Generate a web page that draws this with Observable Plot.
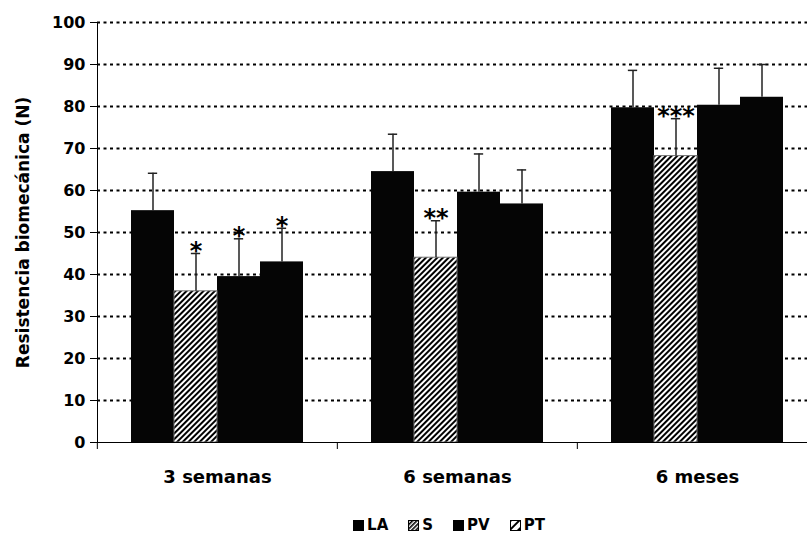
<!DOCTYPE html>
<html>
<head>
<meta charset="utf-8">
<script src="https://cdn.jsdelivr.net/npm/d3@7"></script>
<script src="https://cdn.jsdelivr.net/npm/@observablehq/plot@0.6"></script>
<style>
  html, body { margin: 0; padding: 0; background: #fff; overflow: hidden; }
  #legend {
    width: 807px; height: 35px; box-sizing: border-box;
    padding-left: 91px; padding-top: 19px;
    display: flex; justify-content: center; align-items: center;
    font-family: 'DejaVu Sans', sans-serif; font-weight: bold; font-size: 15px; color: #000;
  }
  .item { display: flex; align-items: center; margin: 0 10px; }
  .item svg { margin-right: 3px; display: block; }
</style>
</head>
<body>
<div id="chart"></div>
<div id="legend"></div>
<script>
// ---- data ----
const groups = ["3 semanas", "6 semanas", "6 meses"];
const series = ["LA", "S", "PV", "PT"];
const meanLA = [55.2, 64.5, 79.7];
const meanS  = [36.0, 44.0, 68.2];
const meanPV = [39.5, 59.6, 80.3];
const meanPT = [43.0, 56.8, 82.2];
const upperLA = [64.1, 73.4, 88.6];
const upperS  = [45.0, 52.8, 77.1];
const upperPV = [48.5, 68.7, 89.1];
const upperPT = [51.0, 64.9, 90.0];
const starsLA = ["", "", ""];
const starsS  = ["*", "**", "***"];
const starsPV = ["*", "", ""];
const starsPT = ["*", "", ""];
const yTicks = [0, 10, 20, 30, 40, 50, 60, 70, 80, 90, 100];
const yTitle = "Resistencia biomecánica (N)";

const means = {LA: meanLA, S: meanS, PV: meanPV, PT: meanPT};
const uppers = {LA: upperLA, S: upperS, PV: upperPV, PT: upperPT};
const stars = {LA: starsLA, S: starsS, PV: starsPV, PT: starsPT};

const rows = [];
groups.forEach((g, i) => series.forEach(s => rows.push({
  group: g, series: s, value: means[s][i], upper: uppers[s][i], star: stars[s][i]
})));

// ---- layout ----
const W = 807, H = 498, X0 = 96, X1 = 817;
const bw = (X1 - X0) / groups.length;
const step = bw / (series.length + 1.5);
const capInset = (step - 10) / 2;

const plot = Plot.plot({
  width: W, height: H,
  marginLeft: X0, marginRight: 0, marginTop: 22, marginBottom: 56,
  style: "font-family:'DejaVu Sans',sans-serif;font-weight:bold;color:#000;background:#fff;overflow:hidden",
  fx: {domain: groups, range: [X0, X1], padding: 0, label: null},
  x: {domain: series, paddingInner: 0, paddingOuter: 0.75, axis: null},
  y: {domain: [0, 100], axis: null},
  marks: [
    Plot.ruleY(yTicks.filter(d => d > 0), {stroke: "#000", strokeWidth: 2, strokeDasharray: "3,3.5"}),
    Plot.barY(rows, {filter: d => d.series !== "S", fx: "group", x: "series", y: "value", fill: "#050505"}),
    Plot.barY(rows, {filter: d => d.series === "S", fx: "group", x: "series", y: "value", fill: "url(#hatchS)", stroke: "#777", strokeWidth: 1}),
    Plot.ruleX(rows, {fx: "group", x: "series", y1: "value", y2: "upper", stroke: "#222", strokeWidth: 1.5}),
    Plot.tickY(rows, {fx: "group", x: "series", y: "upper", stroke: "#222", strokeWidth: 1.5, inset: capInset}),
    Plot.text(rows, {filter: d => d.star, fx: "group", x: "series", y: "upper", text: "star", fontSize: 24, dy: -2, fill: "#000"}),
    Plot.ruleY([0], {stroke: "#000", strokeWidth: 1}),
    Plot.frame({anchor: "left", facetAnchor: "left", stroke: "#000"}),
    Plot.axisY({ticks: yTicks, tickSize: 7, tickPadding: 5, fontSize: 16, label: null}),
    Plot.axisFx({anchor: "bottom", tickSize: 7, tickFormat: () => "", dx: -bw / 2, label: null}),
    Plot.axisFx({anchor: "bottom", tickSize: 0, tickPadding: 28, fontSize: 18, label: null}),
    Plot.text([yTitle], {frameAnchor: "left", textAnchor: "middle", rotate: -90, dx: -74, fontSize: 17, facetAnchor: "left", fill: "#000"})
  ]
});

d3.select(plot).insert("defs", ":first-child").html(
  `<pattern id="hatchS" width="4" height="4" patternUnits="userSpaceOnUse" patternTransform="rotate(45)">
     <rect width="4" height="4" fill="#fff"/><rect width="2" height="4" fill="#000"/>
   </pattern>`
);
document.getElementById("chart").append(plot);

// ---- legend ----
const swatchFill = {LA: "#000", S: "url(#legS)", PV: "#000", PT: "url(#legPT)"};
const leg = d3.select("#legend");
leg.append("svg").attr("width", 0).attr("height", 0).style("position", "absolute").html(
  `<defs>
    <pattern id="legS" width="3" height="3" patternUnits="userSpaceOnUse" patternTransform="rotate(45)">
      <rect width="3" height="3" fill="#fff"/><rect width="1.6" height="3" fill="#000"/>
    </pattern>
    <pattern id="legPT" width="6" height="6" patternUnits="userSpaceOnUse" patternTransform="rotate(45)">
      <rect width="6" height="6" fill="#fff"/><rect width="2" height="6" fill="#000"/>
    </pattern>
  </defs>`
);
series.forEach(s => {
  const it = leg.append("div").attr("class", "item");
  const sv = it.append("svg").attr("width", 11).attr("height", 11);
  sv.append("rect").attr("x", 0.5).attr("y", 0.5).attr("width", 10).attr("height", 10)
    .attr("fill", swatchFill[s]).attr("stroke", "#000").attr("stroke-width", 1);
  it.append("span").text(s);
});
</script>
</body>
</html>
